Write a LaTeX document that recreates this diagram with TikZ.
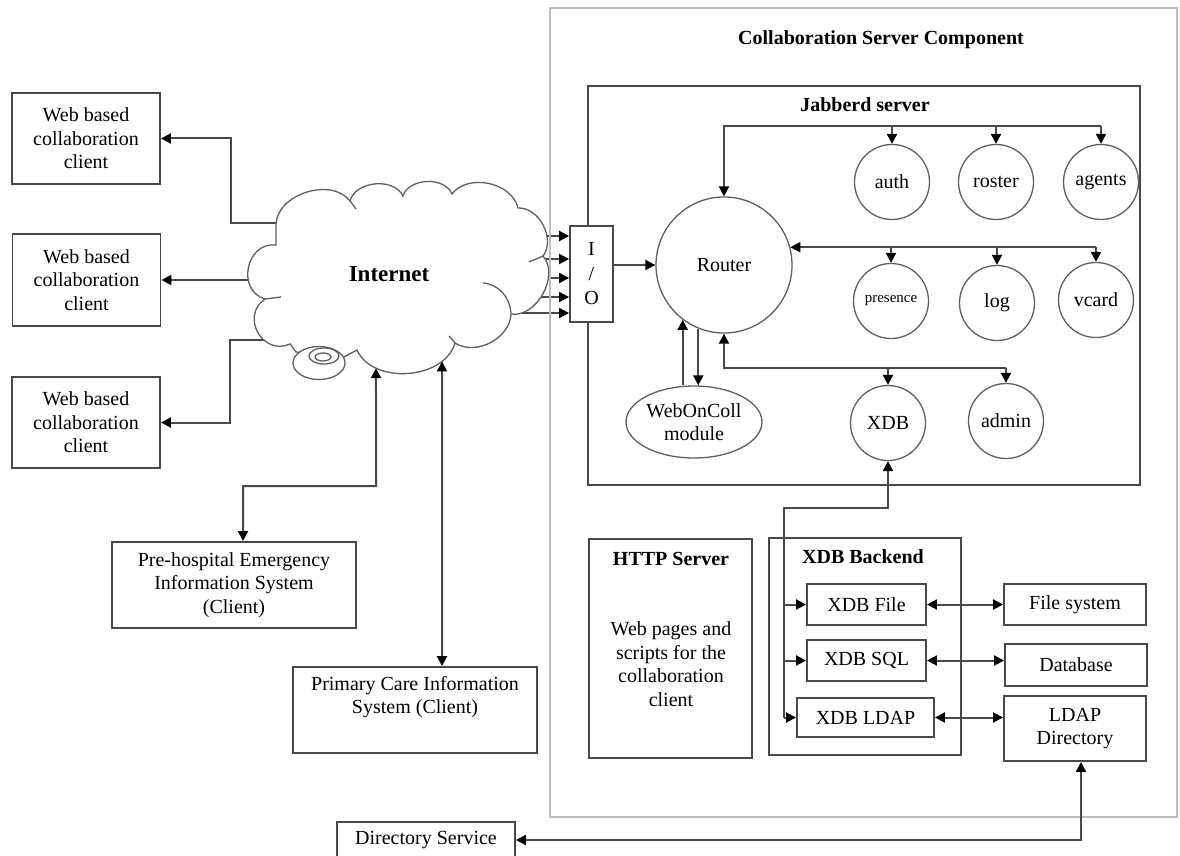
\documentclass[tikz,border=0pt]{standalone}
\usepackage{fontspec}
\setmainfont{Liberation Serif}
\usetikzlibrary{arrows.meta,calc,intersections,backgrounds,shapes.geometric}
\definecolor{ln}{RGB}{72,72,72}
\definecolor{rim}{RGB}{95,95,95}
\definecolor{outerln}{RGB}{190,190,190}
\begin{document}
\begin{tikzpicture}[x=1pt,y=-1pt,
  every node/.style={font=\fontsize{20}{23.5}\selectfont, align=center, inner sep=0pt},
  box/.style={draw=ln, line width=1.9pt, fill=white},
  ring/.style={draw=rim, line width=1.3pt, circle, minimum size=75pt, fill=white},
  ttl/.style={font=\fontsize{20}{24}\selectfont\bfseries},
  conn/.style={draw=ln, line width=2pt},
  >={Triangle[length=10pt,width=10pt,color=black]},
  arr/.style={conn,->},
  dbl/.style={conn,<->},
  cloudln/.style={draw=rim, line width=1.3pt},
]
\useasboundingbox (0,0) rectangle (1180,856);
\clip (0,0) rectangle (1180,856);

% server component frame and Jabberd frame
\node[draw=outerln, line width=1.4pt, minimum width=627pt, minimum height=809pt] (srv) at (863.5,412.5) {};
\node[ttl] (srvt) at (881,40) {Collaboration Server Component};
\node[draw=ln, line width=1.9pt, minimum width=552pt, minimum height=399pt] (jab) at (864,285.5) {};
\node[ttl] (jabt) at (865,105) {Jabberd server};

% clients
\node[box, minimum width=148pt, minimum height=91pt] (w1) at (86,138.5) {Web based\\collaboration\\client};
\node[box, minimum width=148pt, minimum height=92pt] (w2) at (86.5,280) {Web based\\collaboration\\client};
\node[box, minimum width=148pt, minimum height=91pt] (w3) at (86,422.5) {Web based\\collaboration\\client};
\node[box, minimum width=244pt, minimum height=86pt] (pre) at (234,585) {Pre-hospital Emergency\\Information System\\(Client)};
\node[box, minimum width=244pt, minimum height=86pt] (pc) at (415,710) {};
\node (pct) at (415,697) {Primary Care Information\\System (Client)};
\node[box, minimum width=178pt, minimum height=36pt] (dsv) at (426,840) {Directory Service};

% Internet cloud
\draw[cloudln, fill=white, name path=cloudp]
  (276,224) to[bend left=70] (350,201)
  to[bend left=70] (403,196)
  to[bend left=70] (452,194)
  to[bend left=65] (518,208)
  to[bend left=65] (543,256)
  to[bend left=70] (511,314)
  to[bend left=60] (455,343)
  to[bend left=70] (357,350)
  -- (344,357) -- (296,352) -- (290,344)
  to[bend left=85, looseness=1.5] (265,299)
  to[bend left=85, looseness=1.4] (276,245)
  -- cycle;
\draw[cloudln] (483,283) to[out=-5,in=95] (511,313);
\draw[cloudln] (281,297) -- (265,299);
\draw[cloudln] (350,201) -- (356,209);
\draw[cloudln] (455,343) -- (449,336);
\draw[cloudln] (543,256) -- (529,262);
% swirl on the cloud rim
\draw[cloudln, fill=white] (319,363) ellipse [x radius=26, y radius=16.5];
\draw[cloudln] (324,356) ellipse [x radius=15, y radius=8];
\draw[cloudln] (323,357) ellipse [x radius=8, y radius=4];
\node[font=\fontsize{23}{26}\selectfont\bfseries] (inet) at (389,274) {Internet};

% I/O gateway
\node[box, minimum width=43pt, minimum height=96pt, font=\fontsize{20}{24.5}\selectfont] (io) at (591.5,274) {I\\/\\O};

% Jabberd components
\node[ring, minimum size=136pt] (router) at (724,265) {Router};
\node[draw=rim, line width=1.3pt, ellipse, minimum width=136pt, minimum height=72pt, fill=white] (web) at (694,422) {WebOnColl\\module};
\node[ring] (auth) at (892,182) {auth};
\node[ring] (roster) at (996,182) {roster};
\node[ring] (agents) at (1101,182) {agents};
\node[ring, font=\fontsize{15}{17}\selectfont] (pres) at (891,301) {presence};
\node[ring] (log) at (997,303) {log};
\node[ring] (vcard) at (1096,300) {vcard};
\node[ring] (xdb) at (888,423) {XDB};
\node[ring] (admin) at (1006,421) {admin};

% HTTP server and XDB backend
\node[box, minimum width=163pt, minimum height=219pt] (http) at (670.5,648.5) {};
\node[ttl] (httpt) at (671,559) {HTTP Server};
\node (httpb) at (671,664) {Web pages and\\scripts for the\\collaboration\\client};
\node[box, minimum width=192pt, minimum height=217pt] (bk) at (865,646.5) {};
\node[ttl] (bkt) at (863,557) {XDB Backend};
\node[box, minimum width=119pt, minimum height=41pt] (xdbf) at (866.5,604.5) {XDB File};
\node[box, minimum width=119pt, minimum height=41pt] (xdbs) at (866.5,660.5) {XDB SQL};
\node[box, minimum width=137pt, minimum height=39pt] (xdbl) at (865.5,717.5) {XDB LDAP};
\node[box, minimum width=142pt, minimum height=41pt] (fs) at (1075,604.5) {File system};
\node[box, minimum width=142pt, minimum height=42pt] (db) at (1076,665) {Database};
\node[box, minimum width=142pt, minimum height=65pt] (ldap) at (1075,728.5) {LDAP\\Directory};

% links leaving the cloud (hidden under its white fill)
\begin{scope}[on background layer]
  \fill[white] (0,0) rectangle (1180,856);
  \foreach \yy [count=\i] in {236,259,278,297,313} {
    \coordinate (ci\i) at (500,\yy);
    \draw[arr] (ci\i) -- (ci\i -| io.west);
  }
  \coordinate (c1) at (300,223);
  \coordinate (k1) at (231,223);
  \draw[arr] (c1) -- (k1) |- (w1.east);
  \coordinate (c2) at (300,280);
  \draw[arr] (c2) -- (w2.east);
  \coordinate (c3) at (310,340);
  \coordinate (k3) at (230,340);
  \draw[arr] (c3) -- (k3) |- (w3.east);
\end{scope}

% cloud to the two information systems
\coordinate (pk) at (376,486);
\path[name path=vpre] (pk) -- (376,300);
\path[name intersections={of=cloudp and vpre, by=cpre}];
\draw[dbl] (cpre) -- (pk) -| ($(pre.north)+(9,0)$);
\coordinate (pq) at ($(pc.north)+(27,0)$);
\path[name path=vpc] (pq) -- ++(0,-400);
\path[name intersections={of=cloudp and vpc, by=cpc}];
\draw[dbl] (cpc) -- (pq);

% I/O to router, router and WebOnColl
\draw[arr] (io.east |- router.west) -- (router.west);
\draw[arr] (router.233 |- web.north) -- (router.233);
\draw[arr] (router.248) -- (router.248 |- web.north);

% component buses
\coordinate (tb) at (agents.north |- 0,126);
\draw[arr] (tb) -| (router.north);
\draw[arr] (auth.north |- tb) -- (auth.north);
\draw[arr] (roster.north |- tb) -- (roster.north);
\draw[arr] (tb) -- (agents.north);

\coordinate (mb) at (router.15 -| vcard.north);
\draw[arr] (mb) -- (router.15);
\draw[arr] (pres.north |- mb) -- (pres.north);
\draw[arr] (log.north |- mb) -- (log.north);
\draw[arr] (mb) -- (vcard.north);

\coordinate (bb) at (admin.north |- 0,368);
\draw[arr] (bb) -| (router.south);
\draw[arr] (xdb.north |- bb) -- (xdb.north);
\draw[arr] (bb) -- (admin.north);

% XDB to its backends
\coordinate (xk) at (784,508);
\draw[arr] (xdbl.west -| xk) -- (xk) -| (xdb.south);
\draw[arr] (xdbf.west -| xk) -- (xdbf.west);
\draw[arr] (xdbs.west -| xk) -- (xdbs.west);
\draw[arr] (xdbl.west -| xk) -- (xdbl.west);
\draw[dbl] (xdbf.east) -- (xdbf.east -| fs.west);
\draw[dbl] (xdbs.east) -- (xdbs.east -| db.west);
\draw[dbl] (xdbl.east) -- (xdbl.east -| ldap.west);

% LDAP directory to directory service
\coordinate (lk) at ($(ldap.south)+(6,0)$);
\draw[dbl] (dsv.east) -| (lk);
\end{tikzpicture}
\end{document}
